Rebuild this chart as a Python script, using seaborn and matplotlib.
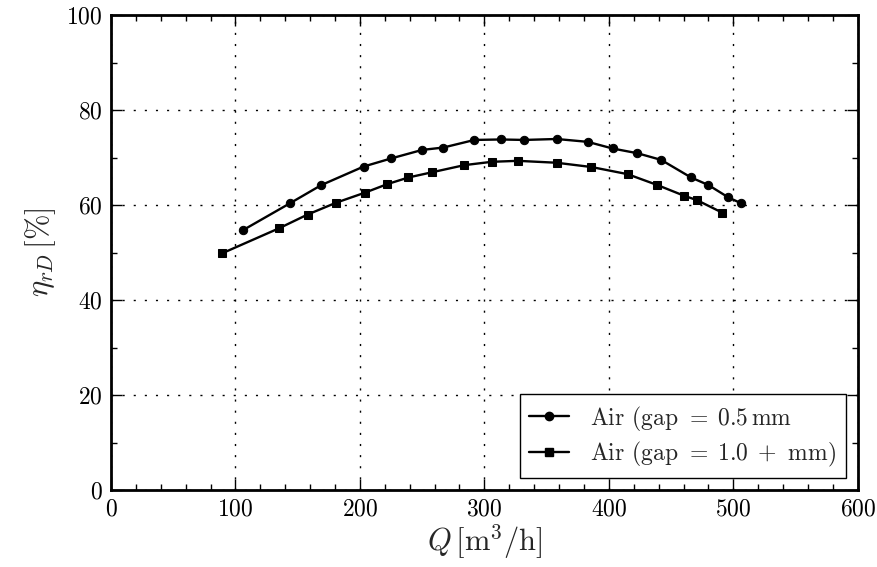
import numpy as np
import pandas as pd
import matplotlib
matplotlib.use("Agg")
import matplotlib.pyplot as plt
from matplotlib.ticker import MultipleLocator
import seaborn as sns

# Flow rate Q [m^3/h] and efficiency eta_rD [%] for two gap settings
q_gap05 = [106, 144, 169, 203, 225, 250, 267, 292, 313, 332, 358, 383, 403, 423, 442, 466, 480, 496, 506]
eta_gap05 = [54.7, 60.4, 64.2, 68.1, 69.8, 71.6, 72.1, 73.7, 73.8, 73.7, 73.9, 73.3, 71.9, 70.9, 69.5, 65.8, 64.2, 61.6, 60.4]

q_gap10 = [89, 135, 158, 181, 204, 222, 239, 258, 284, 306, 327, 358, 386, 415, 439, 460, 471, 491]
eta_gap10 = [49.8, 55.1, 58.0, 60.5, 62.6, 64.4, 65.8, 66.9, 68.4, 69.1, 69.3, 68.9, 68.0, 66.5, 64.2, 62.0, 61.0, 58.4]

series_labels = [r"Air (gap $=\;0.5\,$mm", r"Air (gap $=\;1.0\;+$ mm)"]
x_ticks = [0, 100, 200, 300, 400, 500, 600]
y_ticks = [0, 20, 40, 60, 80, 100]

df = pd.concat([
    pd.DataFrame({"Q": q_gap05, "eta": eta_gap05, "series": series_labels[0]}),
    pd.DataFrame({"Q": q_gap10, "eta": eta_gap10, "series": series_labels[1]}),
], ignore_index=True)

sns.set_style("ticks")
plt.rcParams.update({
    "font.family": "serif",
    "font.serif": ["cmr10", "DejaVu Serif"],
    "mathtext.fontset": "cm",
    "axes.unicode_minus": False,
    "axes.formatter.use_mathtext": True,
})

fig = plt.figure(figsize=(8.78, 5.67), dpi=100)
ax = fig.add_axes([0.1264, 0.1358, 0.8506, 0.8377])

sns.lineplot(
    data=df, x="Q", y="eta", style="series",
    markers={series_labels[0]: "o", series_labels[1]: "s"},
    dashes=False, color="black", linewidth=1.7, markersize=6,
    markeredgecolor="black", sort=False, ax=ax, legend=False,
)

ax.set_xlim(0, 600)
ax.set_ylim(0, 100)
ax.set_xticks(x_ticks)
ax.set_yticks(y_ticks)
ax.xaxis.set_minor_locator(MultipleLocator(20))
ax.yaxis.set_minor_locator(MultipleLocator(10))
ax.tick_params(which="both", direction="in", top=True, right=True, colors="black",
               labelsize=17, width=1.0)
ax.tick_params(which="major", length=8, pad=6)
ax.tick_params(which="minor", length=4)
for s in ax.spines.values():
    s.set_linewidth(2)
    s.set_color("black")
ax.grid(True, which="major", linestyle=(0, (1.5, 6.5)), color="black", linewidth=1.0)

ax.set_xlabel(r"$Q\,[\mathrm{m}^3/\mathrm{h}]$", fontsize=22, labelpad=1)
ax.set_ylabel(r"$\eta_{rD}\,[\%]$", fontsize=22, labelpad=6)

handles = [
    plt.Line2D([], [], color="black", marker="o", markersize=6, linewidth=1.7),
    plt.Line2D([], [], color="black", marker="s", markersize=6, linewidth=1.7),
]
leg = ax.legend(handles, series_labels, loc="lower right", fontsize=17,
                fancybox=False, frameon=True, edgecolor="black", framealpha=1,
                borderaxespad=0.5, borderpad=0.4, handlelength=1.7,
                handletextpad=0.9, labelspacing=0.3)
leg.get_frame().set_linewidth(1.0)

fig.savefig("out.png", dpi=100)
